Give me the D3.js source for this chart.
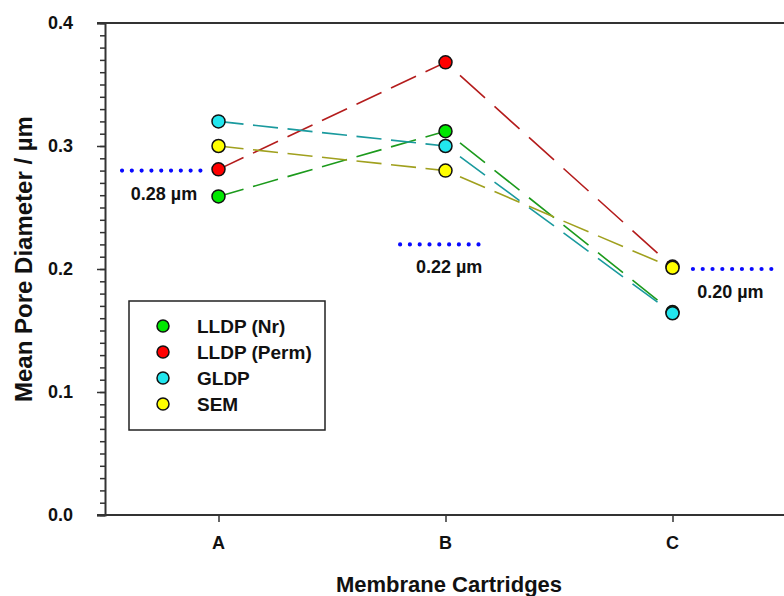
<!DOCTYPE html>
<html>
<head>
<meta charset="utf-8">
<script src="https://cdn.jsdelivr.net/npm/d3@7"></script>
<style>
  html, body { margin: 0; padding: 0; background: #fff; }
  svg { display: block; font-family: "Liberation Sans", Arial, sans-serif; font-weight: bold; }
</style>
</head>
<body>
<svg id="chart" width="784" height="596"></svg>
<script>
// Membrane cartridges on the x axis
const cartridges = ["A", "B", "C"];

// Mean pore diameter (µm) per measurement method
const seriesNames = ["LLDP (Nr)", "LLDP (Perm)", "GLDP", "SEM"];
const lldpNr   = [0.259, 0.312, 0.165];
const lldpPerm = [0.281, 0.368, 0.202];
const gldp     = [0.320, 0.300, 0.164];
const sem      = [0.300, 0.280, 0.201];

// Nominal pore ratings of each cartridge
const nominalValues = [0.28, 0.22, 0.20];
const nominalLabels = ["0.28 \u00b5m", "0.22 \u00b5m", "0.20 \u00b5m"];

const yMajorTicks = [0.0, 0.1, 0.2, 0.3, 0.4];
const yTickLabels = ["0.0", "0.1", "0.2", "0.3", "0.4"];

const seriesValues = [lldpNr, lldpPerm, gldp, sem];
const markerFill = ["#00e800", "#ff0000", "#22e6ee", "#ffff00"];
const lineColor  = ["#1c9a1c", "#b41c1c", "#1a9a9e", "#a0a01e"];

// where each nominal rating bar sits, in category units
const nominalSpan = [[0.575, 0.925], [1.80, 2.155], [3.09, 3.445]];
const nominalLabelX = [0.76, 2.016, 3.255];

const svg = d3.select("#chart");
const plotLeft = 105, plotTop = 23, plotBottom = 515, plotRight = 786;

const x = d3.scaleLinear().domain([0.5, 3.5]).range([plotLeft, plotRight]);
const y = d3.scaleLinear().domain([0, 0.4]).range([plotBottom, plotTop]);

const axisColor = "#333";

// y axis: major and minor ticks pointing outward
const yAxis = d3.axisLeft(y).tickValues(yMajorTicks).tickSize(8).tickFormat(() => "");
const yMinor = d3.axisLeft(y).tickValues(d3.range(0, 41).map(i => i / 100)).tickSize(5).tickFormat(() => "");
svg.append("g").attr("transform", `translate(${plotLeft},0)`).call(yMinor)
  .call(g => g.select(".domain").remove())
  .call(g => g.selectAll("line").attr("stroke", axisColor).attr("stroke-width", 1.5));
const gy = svg.append("g").attr("transform", `translate(${plotLeft},0)`).call(yAxis);
gy.select(".domain").attr("stroke", axisColor).attr("stroke-width", 2);
gy.selectAll("line").attr("stroke", axisColor).attr("stroke-width", 1.5);

yMajorTicks.forEach((v, i) => {
  svg.append("text")
    .attr("x", 73).attr("y", y(v) + 6)
    .attr("text-anchor", "end")
    .attr("font-size", 18)
    .attr("fill", "#111")
    .text(yTickLabels[i]);
});

// x axis with category ticks
const xAxis = d3.axisBottom(x).tickValues([1, 2, 3]).tickSize(7).tickFormat(() => "");
const gx = svg.append("g").attr("transform", `translate(0,${plotBottom})`).call(xAxis);
gx.select(".domain").remove();
gx.selectAll("line").attr("stroke", axisColor).attr("stroke-width", 1.5);
svg.append("line").attr("x1", 97).attr("x2", 784).attr("y1", plotBottom).attr("y2", plotBottom)
  .attr("stroke", axisColor).attr("stroke-width", 2);
svg.append("line").attr("x1", 97).attr("x2", 784).attr("y1", plotTop).attr("y2", plotTop)
  .attr("stroke", axisColor).attr("stroke-width", 2);

cartridges.forEach((c, i) => {
  svg.append("text")
    .attr("x", x(i + 1)).attr("y", plotBottom + 34)
    .attr("text-anchor", "middle")
    .attr("font-size", 18)
    .attr("fill", "#111")
    .text(c);
});

// axis titles
svg.append("text")
  .attr("x", 449).attr("y", 592)
  .attr("text-anchor", "middle")
  .attr("font-size", 22)
  .attr("fill", "#111")
  .text("Membrane Cartridges");
svg.append("text")
  .attr("transform", `translate(32,259) rotate(-90)`)
  .attr("text-anchor", "middle")
  .attr("font-size", 24)
  .attr("fill", "#111")
  .text("Mean Pore Diameter / \u00b5m");

// nominal pore rating bars (blue dotted) and their labels
nominalValues.forEach((v, i) => {
  svg.append("line")
    .attr("x1", x(nominalSpan[i][0])).attr("x2", x(nominalSpan[i][1]))
    .attr("y1", y(v)).attr("y2", y(v))
    .attr("stroke", "#0a0aff")
    .attr("stroke-width", 4.2)
    .attr("stroke-linecap", "round")
    .attr("stroke-dasharray", "0,9.8");
  svg.append("text")
    .attr("x", x(nominalLabelX[i])).attr("y", y(v) + 29)
    .attr("text-anchor", "middle")
    .attr("font-size", 18)
    .attr("fill", "#111")
    .text(nominalLabels[i]);
});

// dashed connecting lines; dash lengths are measured along x
const dashLen = 25, gapLen = 9.5, period = dashLen + gapLen;
seriesValues.forEach((vals, s) => {
  let runX = 0;
  for (let i = 0; i < vals.length - 1; i++) {
    const x1 = x(i + 1), y1 = y(vals[i]), x2 = x(i + 2), y2 = y(vals[i + 1]);
    const dx = x2 - x1, len = Math.hypot(dx, y2 - y1), f = len / dx;
    svg.append("line")
      .attr("x1", x1).attr("y1", y1).attr("x2", x2).attr("y2", y2)
      .attr("stroke", lineColor[s])
      .attr("stroke-width", 1.6)
      .attr("stroke-dasharray", `${dashLen * f},${gapLen * f}`)
      .attr("stroke-dashoffset", (runX % period) * f);
    runX += dx;
  }
});

// markers
seriesValues.forEach((vals, s) => {
  svg.append("g").selectAll("circle").data(vals).join("circle")
    .attr("cx", (d, i) => x(i + 1))
    .attr("cy", d => y(d))
    .attr("r", 6.5)
    .attr("fill", markerFill[s])
    .attr("stroke", "#111")
    .attr("stroke-width", 1.5);
});

// legend
const legend = svg.append("g");
legend.append("rect")
  .attr("x", 129).attr("y", 301).attr("width", 196).attr("height", 129)
  .attr("fill", "#fff").attr("stroke", "#222").attr("stroke-width", 1.5);
seriesNames.forEach((name, s) => {
  const cy = 326 + s * 26;
  legend.append("circle")
    .attr("cx", 163).attr("cy", cy).attr("r", 6)
    .attr("fill", markerFill[s]).attr("stroke", "#111").attr("stroke-width", 1.5);
  legend.append("text")
    .attr("x", 197).attr("y", cy + 6.5)
    .attr("font-size", 19)
    .attr("fill", "#111")
    .text(name);
});
</script>
</body>
</html>
